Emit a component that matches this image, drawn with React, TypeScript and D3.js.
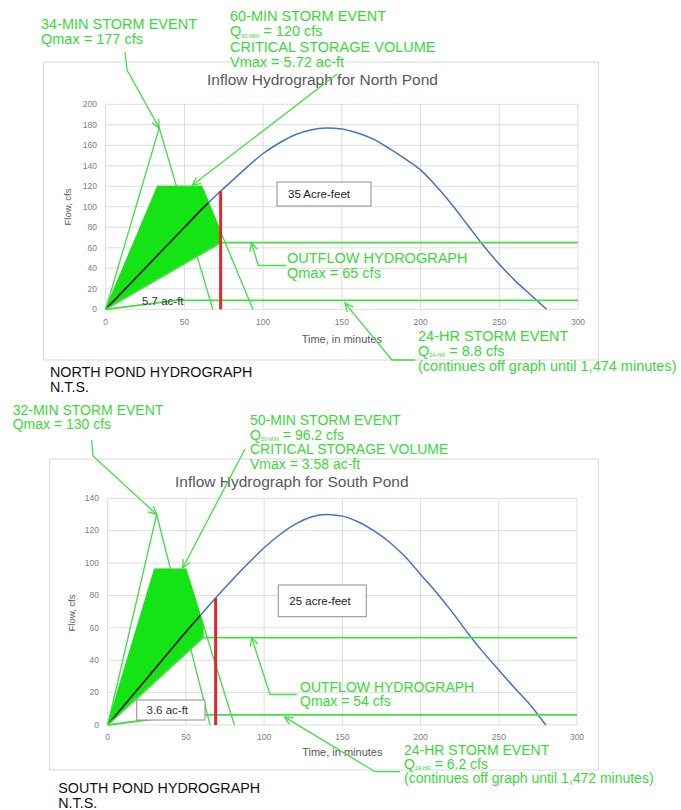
import React from "react";
import * as d3 from "d3";

// ---- data ----
const minutes = [0, 10, 20, 30, 40, 50, 60, 70, 80, 90, 100, 110, 120, 130, 140, 150, 160, 170, 180, 190, 200, 210, 220, 230, 240, 250, 260, 270, 280];
const northInflow = [0, 16, 32, 48, 64, 80, 96, 111, 125, 139, 152, 162, 170, 175, 177, 176, 172, 166, 157, 147, 136, 120, 102, 82, 62, 44, 28, 14, 0];
const southInflow = [0, 11.5, 23, 34.5, 46, 57.5, 68.5, 79.5, 90, 100, 109.5, 117.5, 124, 128.5, 130, 129, 125.5, 120, 113, 104, 93, 82, 70, 57, 45, 34, 23, 12.5, 0];

const xTicks = [0, 50, 100, 150, 200, 250, 300];
const northYTicks = [0, 20, 40, 60, 80, 100, 120, 140, 160, 180, 200];
const southYTicks = [0, 20, 40, 60, 80, 100, 120, 140];

// North pond design storms (time in minutes, flow in cfs)
const north34Time = [0, 34, 68];
const north34Flow = [0, 177, 0];
const north60Time = [0, 33, 61, 93.5];
const north60Flow = [0, 120, 120, 0];
const northOutTime = [0, 73, 300];
const northOutFlow = [0, 65, 65];
const north24Time = [0, 45, 300];
const north24Flow = [0, 8.8, 8.8];
const northCriticalTime = 73;

// South pond design storms
const south32Time = [0, 31.3, 65.4];
const south32Flow = [0, 130, 0];
const south50Time = [0, 30, 50, 81];
const south50Flow = [0, 96.2, 96.2, 0];
const southOutTime = [0, 61, 300];
const southOutFlow = [0, 54, 54];
const south24Time = [0, 50, 300];
const south24Flow = [0, 6.2, 6.2];
const southCriticalTime = 69;

// ---- helpers ----
type Pt = [number, number];
const zip = (t: number[], q: number[]): Pt[] => t.map((v, i) => [v, q[i]] as Pt);
function interp(pts: Pt[], t: number): number {
  for (let i = 1; i < pts.length; i++) {
    const [t0, q0] = pts[i - 1];
    const [t1, q1] = pts[i];
    if (t >= t0 && t <= t1) return q0 + ((q1 - q0) * (t - t0)) / (t1 - t0);
  }
  return 0;
}

const GREEN_TEXT = "#3ad83a";
const GREEN_LINE = "#45dd45";
const GREEN_FILL = "#14e414";
const GRID = "#d9d9d9";
const AXIS_TEXT = "#808080";
const SANS = "'Liberation Sans', Arial, sans-serif";

type Line = string | { q: string; sub: string; rest: string };
type Callout = { lines: Line[]; x: number; y: number; dy: number; path: Pt[]; tip: Pt };

type ChartCfg = {
  id: string;
  frame: { left: number; top: number; right: number; bottom: number };
  plot: { left: number; top: number; right: number; bottom: number };
  yMax: number;
  yTicks: number[];
  inflow: number[];
  title: string;
  titleX: number;
  titleY: number;
  yLabel: string;
  yLabelX: number;
  yLabelY: number;
  yTickRight: number;
  xTickY: number;
  xLabelY: number;
  peakT: number[];
  peakQ: number[];
  stormT: number[];
  stormQ: number[];
  outT: number[];
  outQ: number[];
  dayT: number[];
  dayQ: number[];
  criticalT: number;
  volumeBox: { x: number; y: number; w: number; h: number; text: string };
  storageLabel: { x: number; y: number; text: string; box?: { x: number; y: number; w: number; h: number } };
  calloutSize: number;
  callouts: Callout[];
  caption: { x: number; y: number; lines: string[] };
};

function arrowHead(from: Pt, tip: Pt, len = 9, spread = 0.45): string {
  const a = Math.atan2(tip[1] - from[1], tip[0] - from[0]);
  const b1: Pt = [tip[0] - len * Math.cos(a - spread), tip[1] - len * Math.sin(a - spread)];
  const b2: Pt = [tip[0] - len * Math.cos(a + spread), tip[1] - len * Math.sin(a + spread)];
  return `M${b1[0]},${b1[1]}L${tip[0]},${tip[1]}L${b2[0]},${b2[1]}`;
}

function Hydrograph({ cfg }: { cfg: ChartCfg }) {
  const { plot, frame } = cfg;
  const x = d3.scaleLinear().domain([0, 300]).range([plot.left, plot.right]);
  const y = d3.scaleLinear().domain([0, cfg.yMax]).range([plot.bottom, plot.top]);
  const straight = d3.line<Pt>().x((d) => x(d[0])).y((d) => y(d[1]));
  const smooth = d3
    .line<Pt>()
    .x((d) => x(d[0]))
    .y((d) => y(d[1]))
    .curve(d3.curveMonotoneX);

  const inflow = zip(minutes, cfg.inflow);
  const peak = zip(cfg.peakT, cfg.peakQ);
  const storm = zip(cfg.stormT, cfg.stormQ);
  const outflow = zip(cfg.outT, cfg.outQ);
  const day = zip(cfg.dayT, cfg.dayQ);

  // storage area: between the design storm and the outflow rising limb
  const tEnd = cfg.outT[1];
  const upper: Pt[] = storm.filter((p) => p[0] < tEnd).concat([[tEnd, interp(storm, tEnd)] as Pt]);
  const storage: Pt[] = upper.concat([[tEnd, interp(outflow, tEnd)] as Pt, [0, 0] as Pt]);
  const storagePath = straight(storage) + "Z";

  const critQ = interp(inflow, cfg.criticalT);

  const toPx = (p: Pt): Pt => [x(p[0]), y(p[1])];

  return (
    <g>
      <rect
        x={frame.left}
        y={frame.top}
        width={frame.right - frame.left}
        height={frame.bottom - frame.top}
        fill="#fff"
        stroke={GRID}
        strokeWidth={1}
      />
      {/* gridlines */}
      {cfg.yTicks.map((t) => (
        <line key={"gy" + t} x1={plot.left} x2={plot.right} y1={y(t)} y2={y(t)} stroke={GRID} strokeWidth={0.9} />
      ))}
      {xTicks.map((t) => (
        <line key={"gx" + t} x1={x(t)} x2={x(t)} y1={plot.top} y2={plot.bottom} stroke={GRID} strokeWidth={0.9} />
      ))}
      {/* tick labels */}
      {cfg.yTicks.map((t) => (
        <text
          key={"ty" + t}
          x={cfg.yTickRight}
          y={y(t)}
          dy="0.32em"
          textAnchor="end"
          fontSize={8.5}
          fontFamily={SANS}
          fill={AXIS_TEXT}
        >
          {t}
        </text>
      ))}
      {xTicks.map((t) => (
        <text key={"tx" + t} x={x(t)} y={cfg.xTickY} textAnchor="middle" fontSize={8.5} fontFamily={SANS} fill={AXIS_TEXT}>
          {t}
        </text>
      ))}
      <text x={cfg.titleX} y={cfg.titleY} fontSize={15.5} fontFamily={SANS} fill="#595959">
        {cfg.title}
      </text>
      <text
        transform={`translate(${cfg.yLabelX},${cfg.yLabelY}) rotate(-90)`}
        textAnchor="middle"
        dy="0.32em"
        fontSize={9.5}
        fontFamily={SANS}
        fill="#595959"
      >
        {cfg.yLabel}
      </text>
      <text
        x={(plot.left + plot.right) / 2}
        y={cfg.xLabelY}
        textAnchor="middle"
        fontSize={11}
        fontFamily={SANS}
        fill="#595959"
      >
        Time, in minutes
      </text>

      {/* inflow hydrograph */}
      <path d={smooth(inflow) || ""} fill="none" stroke="#4472c4" strokeWidth={1.5} />

      {/* design storm hydrographs */}
      <path d={straight(peak) || ""} fill="none" stroke={GREEN_LINE} strokeWidth={1.3} />
      <path d={straight(storm) || ""} fill="none" stroke={GREEN_LINE} strokeWidth={1.3} />
      <path d={storagePath} fill={GREEN_FILL} stroke={GREEN_FILL} strokeWidth={1} />
      <defs>
        <clipPath id={cfg.id + "-clip"}>
          <path d={storagePath} />
        </clipPath>
      </defs>
      <path
        d={smooth(inflow) || ""}
        fill="none"
        stroke="#111"
        strokeWidth={1.6}
        clipPath={`url(#${cfg.id}-clip)`}
      />

      {/* outflow and 24-hr storm */}
      <path d={straight(outflow) || ""} fill="none" stroke={GREEN_LINE} strokeWidth={1.8} />
      <path d={straight(day) || ""} fill="none" stroke={GREEN_LINE} strokeWidth={1.8} />

      {/* critical time */}
      <line
        x1={x(cfg.criticalT)}
        x2={x(cfg.criticalT)}
        y1={y(0)}
        y2={y(critQ)}
        stroke="#e3262b"
        strokeWidth={3}
      />

      {/* volume labels */}
      <rect
        x={cfg.volumeBox.x}
        y={cfg.volumeBox.y}
        width={cfg.volumeBox.w}
        height={cfg.volumeBox.h}
        fill="#fff"
        stroke="#8c8c8c"
        strokeWidth={1}
      />
      <text
        x={cfg.volumeBox.x + 11}
        y={cfg.volumeBox.y + cfg.volumeBox.h / 2}
        dy="0.35em"
        fontSize={11.5}
        fontFamily={SANS}
        fill="#222"
      >
        {cfg.volumeBox.text}
      </text>
      {cfg.storageLabel.box && (
        <rect
          x={cfg.storageLabel.box.x}
          y={cfg.storageLabel.box.y}
          width={cfg.storageLabel.box.w}
          height={cfg.storageLabel.box.h}
          fill="#fff"
          stroke="#8c8c8c"
          strokeWidth={1}
        />
      )}
      <text x={cfg.storageLabel.x} y={cfg.storageLabel.y} fontSize={11.5} fontFamily={SANS} fill="#333">
        {cfg.storageLabel.text}
      </text>

      {/* callouts */}
      {cfg.callouts.map((c, i) => {
        const tip = toPx(c.tip);
        const pts: Pt[] = c.path.concat([tip]);
        const d = "M" + pts.map((p) => `${p[0]},${p[1]}`).join("L");
        return (
          <g key={"c" + i}>
            <path d={d} fill="none" stroke={GREEN_LINE} strokeWidth={1.3} />
            <path d={arrowHead(pts[pts.length - 2], tip)} fill="none" stroke={GREEN_LINE} strokeWidth={1.3} />
            {c.lines.map((ln, j) =>
              typeof ln === "string" ? (
                <text
                  key={j}
                  x={c.x}
                  y={c.y + j * c.dy}
                  fontSize={cfg.calloutSize}
                  fontFamily={SANS}
                  fill={GREEN_TEXT}
                >
                  {ln}
                </text>
              ) : (
                <text key={j} x={c.x} y={c.y + j * c.dy} fontSize={cfg.calloutSize} fontFamily={SANS} fill={GREEN_TEXT}>
                  <tspan>{ln.q}</tspan>
                  <tspan fontSize={5.5} dy={1.5}>
                    {ln.sub}
                  </tspan>
                  <tspan dy={-1.5}>{ln.rest}</tspan>
                </text>
              )
            )}
          </g>
        );
      })}

      {/* drawing caption */}
      {cfg.caption.lines.map((ln, j) => (
        <text
          key={"cap" + j}
          x={cfg.caption.x}
          y={cfg.caption.y + j * 15}
          fontSize={14.3}
          fontFamily={SANS}
          letterSpacing={0}
          fill="#111"
        >
          {ln}
        </text>
      ))}
    </g>
  );
}

const northCfg: ChartCfg = {
  id: "north",
  frame: { left: 43.5, top: 62, right: 598.5, bottom: 360 },
  plot: { left: 105.7, top: 104.3, right: 578, bottom: 309.3 },
  yMax: 200,
  yTicks: northYTicks,
  inflow: northInflow,
  title: "Inflow Hydrograph for North Pond",
  titleX: 207,
  titleY: 85,
  yLabel: "Flow, cfs",
  yLabelX: 68,
  yLabelY: 207,
  yTickRight: 97,
  xTickY: 325,
  xLabelY: 342.7,
  peakT: north34Time,
  peakQ: north34Flow,
  stormT: north60Time,
  stormQ: north60Flow,
  outT: northOutTime,
  outQ: northOutFlow,
  dayT: north24Time,
  dayQ: north24Flow,
  criticalT: northCriticalTime,
  volumeBox: { x: 277, y: 182, w: 94, h: 24, text: "35 Acre-feet" },
  storageLabel: { x: 142, y: 304.5, text: "5.7 ac-ft" },
  calloutSize: 14.5,
  callouts: [
    { lines: ["34-MIN STORM EVENT", "Qmax = 177 cfs"], x: 41, y: 28.5, dy: 15, path: [[125, 52], [127, 70]], tip: [34, 177] },
    {
      lines: [
        "60-MIN STORM EVENT",
        { q: "Q", sub: "60-MIN", rest: " = 120 cfs" },
        "CRITICAL STORAGE VOLUME",
        "Vmax = 5.72 ac-ft",
      ],
      x: 230,
      y: 21,
      dy: 15.3,
      path: [[337, 74]],
      tip: [55, 121],
    },
    { lines: ["OUTFLOW HYDROGRAPH", "Qmax = 65 cfs"], x: 287, y: 262.5, dy: 15, path: [[286, 265.5], [258.3, 265.5]], tip: [92.5, 65] },
    {
      lines: ["24-HR STORM EVENT", { q: "Q", sub: "24-HR", rest: " = 8.8 cfs" }, "(continues off graph until 1,474 minutes)"],
      x: 418,
      y: 340.5,
      dy: 15.3,
      path: [[415, 360], [392, 360]],
      tip: [152, 6],
    },
  ],
  caption: { x: 50, y: 376.7, lines: ["NORTH POND HYDROGRAPH", "N.T.S."] },
};

const southCfg: ChartCfg = {
  id: "south",
  frame: { left: 49.5, top: 459, right: 598.5, bottom: 770 },
  plot: { left: 107.7, top: 498.3, right: 577, bottom: 725 },
  yMax: 140,
  yTicks: southYTicks,
  inflow: southInflow,
  title: "Inflow Hydrograph for South Pond",
  titleX: 175,
  titleY: 486.7,
  yLabel: "Flow, cfs",
  yLabelX: 71.7,
  yLabelY: 613,
  yTickRight: 99,
  xTickY: 739.5,
  xLabelY: 756,
  peakT: south32Time,
  peakQ: south32Flow,
  stormT: south50Time,
  stormQ: south50Flow,
  outT: southOutTime,
  outQ: southOutFlow,
  dayT: south24Time,
  dayQ: south24Flow,
  criticalT: southCriticalTime,
  volumeBox: { x: 278.3, y: 585, w: 88, h: 31.7, text: "25 acre-feet" },
  storageLabel: { x: 146.5, y: 714, text: "3.6 ac-ft", box: { x: 136.7, y: 700, w: 68.3, h: 20 } },
  calloutSize: 14,
  callouts: [
    { lines: ["32-MIN STORM EVENT", "Qmax = 130 cfs"], x: 12.7, y: 414.5, dy: 14.8, path: [[91.7, 440], [93, 456]], tip: [31.3, 130] },
    {
      lines: [
        "50-MIN STORM EVENT",
        { q: "Q", sub: "50-MIN", rest: " = 96.2 cfs" },
        "CRITICAL STORAGE VOLUME",
        "Vmax = 3.58 ac-ft",
      ],
      x: 250,
      y: 425,
      dy: 14.5,
      path: [[245, 449]],
      tip: [48, 97],
    },
    { lines: ["OUTFLOW HYDROGRAPH", "Qmax = 54 cfs"], x: 300, y: 691.5, dy: 14.4, path: [[296.7, 694.5], [270, 694.5]], tip: [92, 54] },
    {
      lines: ["24-HR STORM EVENT", { q: "Q", sub: "24-HR", rest: " = 6.2 cfs" }, "(continues off graph until 1,472 minutes)"],
      x: 404,
      y: 754.5,
      dy: 14.4,
      path: [[400, 771.7], [375, 771.7]],
      tip: [113, 5],
    },
  ],
  caption: { x: 58.3, y: 792.7, lines: ["SOUTH POND HYDROGRAPH", "N.T.S."] },
};

export default function App() {
  return (
    <svg
      width={681}
      height={810}
      viewBox="0 0 681 810"
      style={{ position: "absolute", left: 0, top: 0, background: "#fff" }}
    >
      <rect x={0} y={0} width={681} height={810} fill="#fff" />
      <Hydrograph cfg={northCfg} />
      <Hydrograph cfg={southCfg} />
    </svg>
  );
}
